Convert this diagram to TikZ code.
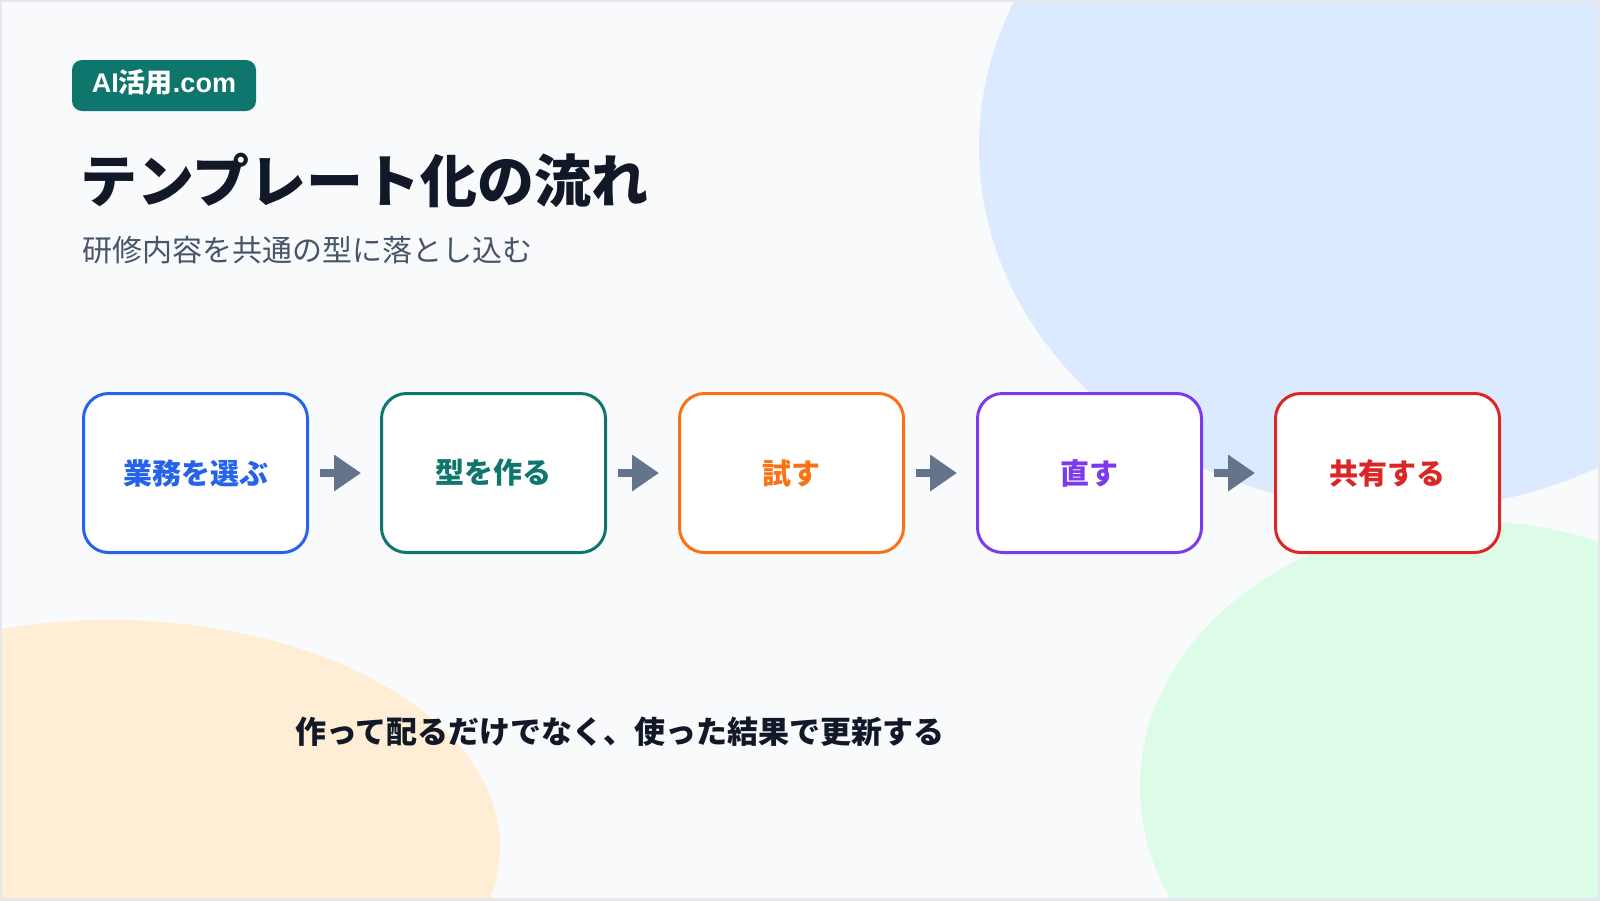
\documentclass[tikz,border=0pt]{standalone}
\usepackage{fontspec}
\newfontfamily\jp{Noto Sans CJK JP}
\newfontfamily\lat{Liberation Sans}
\usetikzlibrary{arrows.meta}
\definecolor{bg}{HTML}{F8FAFC}
\definecolor{bordc}{HTML}{E5E7EB}
\definecolor{blueblob}{HTML}{DBEAFE}
\definecolor{greenblob}{HTML}{DCFCE7}
\definecolor{orangeblob}{HTML}{FFEDD5}
\definecolor{tealc}{HTML}{0F766E}
\definecolor{titlec}{HTML}{111827}
\definecolor{subc}{HTML}{475569}
\definecolor{c1}{HTML}{2563EB}
\definecolor{c2}{HTML}{0F766E}
\definecolor{c3}{HTML}{F97316}
\definecolor{c4}{HTML}{7C3AED}
\definecolor{c5}{HTML}{DC2626}
\definecolor{arrowc}{HTML}{64748B}
\begin{document}
\begin{tikzpicture}[x=0.5pt,y=-0.5pt,
  stepbox/.style={draw=#1, line width=1.5pt, fill=white, rounded corners=12.5pt,
    minimum width=112pt, minimum height=79.5pt, inner sep=0pt, text=#1,
    font=\jp\bfseries\fontsize{14.5pt}{17pt}\selectfont},
  flow/.style={draw=arrowc, line width=4pt, -{Triangle[length=13.5pt,width=17.5pt]}},
  badgebox/.style={fill=tealc, rounded corners=5pt, minimum width=92pt, minimum height=25.5pt,
    inner sep=0pt},
  badgetext/.style={inner sep=0pt, text=white, font=\jp\bfseries\fontsize{13.5pt}{16pt}\selectfont},
  titletext/.style={anchor=west, inner sep=0pt, text=titlec, font=\jp\bfseries\fontsize{28.5pt}{34pt}\selectfont},
  subtext/.style={anchor=west, inner sep=0pt, text=subc, font=\jp\fontsize{15pt}{18pt}\selectfont},
  notetext/.style={inner sep=0pt, text=titlec, font=\jp\bfseries\fontsize{15.5pt}{18pt}\selectfont}]
\useasboundingbox (0,0) rectangle (1600,900);
\begin{scope}
  \clip (0,0) rectangle (1600,900);
  \fill[bg] (0,0) rectangle (1600,900);
  \fill[blueblob] (1400,147) ellipse [x radius=210.5pt, y radius=181.5pt];
  \fill[greenblob] (1470,787) ellipse [x radius=165pt, y radius=133pt];
  \fill[orangeblob] (110,847) ellipse [x radius=195pt, y radius=113.5pt];
  \draw[bordc, line width=2pt] (0,0) rectangle (1600,900);
\end{scope}

\node[badgebox] (badge) at (164,85.5) {};
\node[badgetext] (badgelabel) at ([yshift=1.5pt]badge.center) {{\lat\bfseries AI}活用{\lat\bfseries .com}};
\node[titletext] (title) at (80,180) {テンプレート化の流れ};
\node[subtext] (sub) at (82,250) {研修内容を共通の型に落とし込む};

\node[stepbox=c1] (s1) at (195.5,473) {業務を選ぶ};
\node[stepbox=c2] (s2) at (493.5,473) {型を作る};
\node[stepbox=c3] (s3) at (791.5,473) {試す};
\node[stepbox=c4] (s4) at (1089.5,473) {直す};
\node[stepbox=c5] (s5) at (1387.5,473) {共有する};

\draw[flow] ([xshift=5.5pt]s1.east) -- ([xshift=-9.5pt]s2.west);
\draw[flow] ([xshift=5.5pt]s2.east) -- ([xshift=-9.5pt]s3.west);
\draw[flow] ([xshift=5.5pt]s3.east) -- ([xshift=-9.5pt]s4.west);
\draw[flow] ([xshift=5.5pt]s4.east) -- ([xshift=-9.5pt]s5.west);

\node[notetext] (note) at (620,732) {作って配るだけでなく、使った結果で更新する};
\end{tikzpicture}
\end{document}
